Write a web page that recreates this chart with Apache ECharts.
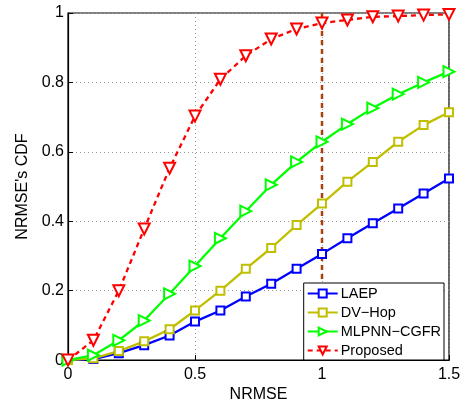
<!DOCTYPE html>
<html><head><meta charset="utf-8">
<script src="https://cdn.jsdelivr.net/npm/echarts@6/dist/echarts.min.js"></script>
<style>html,body{margin:0;padding:0;background:#fff}#c{width:466px;height:408px}</style>
</head><body><div id="c"></div>
<script>
const xValues = [0,0.1,0.2,0.3,0.4,0.5,0.6,0.7,0.8,0.9,1.0,1.1,1.2,1.3,1.4,1.5];
const laep = [0,0.003,0.02,0.043,0.071,0.111,0.143,0.183,0.22,0.263,0.306,0.351,0.394,0.437,0.48,0.523];
const dvhop = [0,0.005,0.026,0.054,0.089,0.143,0.2,0.263,0.323,0.389,0.451,0.514,0.571,0.629,0.677,0.714];
const mlpnn = [0,0.014,0.057,0.114,0.191,0.271,0.351,0.429,0.505,0.571,0.629,0.68,0.726,0.766,0.8,0.831];
const proposed = [0,0.057,0.2,0.378,0.553,0.703,0.809,0.877,0.925,0.954,0.971,0.98,0.989,0.991,0.994,0.996];
const thresholdX = 1;
const seriesNames = ['LAEP','DV\u2212Hop','MLPNN\u2212CGFR','Proposed'];

const pair = arr => xValues.map((x,i)=>[x,arr[i]]);
const font = 'Liberation Sans, Arial, Helvetica, sans-serif';
const chart = echarts.init(document.getElementById('c'), null, {renderer:'canvas'});
function lineSeries(name, data, color, symbol, rot, dashed){
  return {
    name, type:'line', data:pair(data), clip:false,
    symbol, symbolSize: symbol==='emptyRect'?8:11, symbolRotate: rot,
    showAllSymbol:true,
    lineStyle:{color, width:2.3, type: dashed?[5,4]:'solid'},
    itemStyle:{color, borderColor:color, borderWidth:2},
    emphasis:{disabled:true}, animation:false, z:3
  };
}
chart.setOption({
  animation:false,
  grid:{left:68, right:17, top:13, bottom:45, show:true, borderColor:'#000', borderWidth:1.2, containLabel:false},
  xAxis:{type:'value', min:0, max:1.5, interval:0.5,
    name:'NRMSE', nameLocation:'middle', nameGap:24,
    nameTextStyle:{fontFamily:font, fontSize:16, color:'#000'},
    axisLine:{show:true, lineStyle:{color:'#000', width:1.2}},
    axisTick:{show:true, inside:true, length:5, lineStyle:{color:'#000'}},
    axisLabel:{fontFamily:font, fontSize:16, color:'#000', margin:6,
      formatter:v=>String(v)},
    splitLine:{show:true, lineStyle:{color:'#999', type:[1,3], width:1}}},
  yAxis:{type:'value', min:0, max:1, interval:0.2,
    name:"NRMSE's CDF", nameLocation:'middle', nameGap:36, nameRotate:90,
    nameTextStyle:{fontFamily:font, fontSize:16, color:'#000'},
    axisLine:{show:true, lineStyle:{color:'#000', width:1.2}},
    axisTick:{show:true, inside:true, length:5, lineStyle:{color:'#000'}},
    axisLabel:{fontFamily:font, fontSize:16, color:'#000', margin:4,
      formatter:v=>String(Math.round(v*10)/10)},
    splitLine:{show:true, lineStyle:{color:'#999', type:[1,3], width:1}}},
  legend:{
    right:22, bottom:48, orient:'vertical', itemGap:4, itemWidth:30, itemHeight:10,
    backgroundColor:'#fff', borderColor:'#000', borderWidth:1, padding:[3,3,2,3],
    textStyle:{fontFamily:font, fontSize:14.5, color:'#000', padding:[0,0,0,-2]},
    data:seriesNames
  },
  series:[
    lineSeries(seriesNames[0], laep, '#0000ff', 'emptyRect', 0, false),
    lineSeries(seriesNames[1], dvhop, '#bfbf00', 'emptyRect', 0, false),
    lineSeries(seriesNames[2], mlpnn, '#00ff00', 'emptyTriangle', -90, false),
    lineSeries(seriesNames[3], proposed, '#ff0000', 'emptyTriangle', 180, true),
    {name:'threshold', type:'line', data:[[thresholdX,0],[thresholdX,1]], symbol:'none',
     lineStyle:{color:'#a8400f', width:2.5, type:[5,4]}, z:2, emphasis:{disabled:true}}
  ]
});
</script></body></html>
